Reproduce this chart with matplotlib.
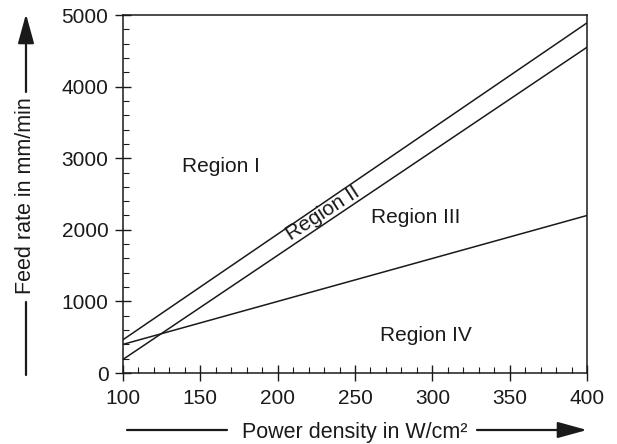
import matplotlib as mpl
mpl.use('Agg')
import matplotlib.pyplot as plt
from matplotlib.ticker import MultipleLocator

plt.rcParams['font.family'] = ['Liberation Sans', 'DejaVu Sans']

# boundary lines: feed rate (mm/min) at power density 100 and 400 W/cm2
power = [100, 400]
upper_bound = [465, 4890]
middle_bound = [190, 4550]
lower_bound = [400, 2200]

regions = ['Region I', 'Region II', 'Region III', 'Region IV']
region_x = [163, 229, 289, 296]
region_y = [2880, 2230, 2165, 530]
region_rot = [0, 33, 0, 0]

ink = '#1a1a1a'

fig = plt.figure(figsize=(6.17, 4.44), dpi=100)
ax = fig.add_axes([0.1994, 0.1599, 0.752, 0.8063])

for ys in [upper_bound, middle_bound, lower_bound]:
  ax.plot(power, ys, color=ink, linewidth=1.1)

for name, x, y, r in zip(regions, region_x, region_y, region_rot):
  ax.text(x, y, name, rotation=r, ha='center', va='center',
          fontsize=15, color=ink, rotation_mode='anchor')

ax.set_xlim(100, 400)
ax.set_ylim(0, 5000)
ax.xaxis.set_major_locator(MultipleLocator(50))
ax.xaxis.set_minor_locator(MultipleLocator(10))
ax.yaxis.set_major_locator(MultipleLocator(1000))
ax.yaxis.set_minor_locator(MultipleLocator(200))
ax.tick_params(which='major', direction='inout', length=11, width=1,
               color=ink, labelsize=15, labelcolor=ink)
ax.tick_params(axis='x', which='major', pad=6)
ax.tick_params(axis='y', which='major', pad=5)
ax.tick_params(which='minor', direction='in', length=4, width=0.8, color=ink)
for s in ax.spines.values():
  s.set_linewidth(1.1)
  s.set_color(ink)

# axis labels with long arrows, as in the original drawing
fig.text(26 / 617, 1 - 196 / 444, 'Feed rate in mm/min', rotation=90,
         ha='center', va='center', fontsize=15.5, color=ink)
fig.text(355 / 617, 1 - 432 / 444, 'Power density in W/cm²',
         ha='center', va='center', fontsize=15.5, color=ink)

arrow = dict(arrowstyle='-|>,head_length=1.2,head_width=0.33',
             color=ink, lw=1.6, shrinkA=0, shrinkB=0, mutation_scale=15)
line = dict(arrowstyle='-', color=ink, lw=1.6, shrinkA=0, shrinkB=0)

def fpos(px, py):
  return (px / 617, 1 - py / 444)

fig.add_artist(mpl.patches.FancyArrowPatch(fpos(26, 375), fpos(26, 302),
               transform=fig.transFigure, **line))
fig.add_artist(mpl.patches.FancyArrowPatch(fpos(26, 92), fpos(26, 14),
               transform=fig.transFigure, **arrow))
fig.add_artist(mpl.patches.FancyArrowPatch(fpos(127, 430), fpos(227, 430),
               transform=fig.transFigure, **line))
fig.add_artist(mpl.patches.FancyArrowPatch(fpos(477, 430), fpos(587, 430),
               transform=fig.transFigure, **arrow))

plt.savefig('out.png', format='png')
